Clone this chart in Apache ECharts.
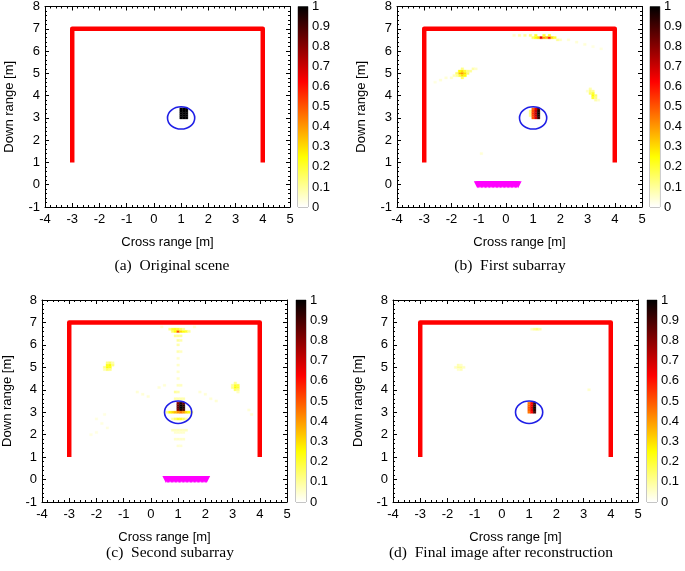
<!DOCTYPE html>
<html><head><meta charset="utf-8">
<script src="https://cdn.jsdelivr.net/npm/echarts@6/dist/echarts.min.js"></script>
<style>html,body{margin:0;padding:0;background:#fff}#c{width:685px;height:571px}</style>
</head><body><div id="c"></div><script>
// ---- data ----
const wall = [[-3,1],[-3,7],[4,7],[4,1]];
const circle = [[1,3,0.5]];
const arrayB = [-1.05,-1.0,-0.95,-0.9,-0.85,-0.8,-0.75,-0.7,-0.65,-0.6,-0.55,-0.5,-0.45,-0.4,-0.35,-0.3,-0.25,-0.2,-0.15,-0.1,-0.05,0,0.05,0.1,0.15,0.2,0.25,0.3,0.35,0.4,0.45];
const arrayC = [0.55,0.6,0.65,0.7,0.75,0.8,0.85,0.9,0.95,1.0,1.05,1.1,1.15,1.2,1.25,1.3,1.35,1.4,1.45,1.5,1.55,1.6,1.65,1.7,1.75,1.8,1.85,1.9,1.95,2.0,2.05];
const cellsA = [
 [1.0,3.0,1],[1.1,3.0,1],[1.2,3.0,1],[1.0,3.1,1],[1.1,3.1,1],[1.2,3.1,1],
 [1.0,3.2,1],[1.1,3.2,1],[1.2,3.2,1],[1.0,3.3,1],[1.1,3.3,1],[1.2,3.3,1],
 [1.0,3.4,1],[1.1,3.4,1],[1.2,3.4,1]
];
const cellsB = [
 [0.9,3.1,0.1],[0.9,3.2,0.12],[0.9,3.3,0.12],
 [1.0,3.0,0.5],[1.0,3.1,0.52],[1.0,3.2,0.55],[1.0,3.3,0.52],[1.0,3.4,0.48],
 [1.1,3.0,0.68],[1.1,3.1,0.7],[1.1,3.2,0.72],[1.1,3.3,0.7],[1.1,3.4,0.66],
 [1.2,3.0,0.92],[1.2,3.1,0.96],[1.2,3.2,1.0],[1.2,3.3,0.96],[1.2,3.4,0.9],
 [0.3,6.7,0.05],[0.5,6.7,0.08],[0.7,6.7,0.1],[0.9,6.7,0.12],[1.0,6.6,0.15],[1.1,6.6,0.25],[1.1,6.7,0.2],
 [1.2,6.6,0.3],[1.3,6.6,0.65],[1.4,6.6,0.4],[1.4,6.7,0.2],[1.5,6.6,0.35],[1.6,6.6,0.6],[1.6,6.7,0.2],
 [1.7,6.6,0.3],[1.8,6.6,0.2],[1.9,6.5,0.1],[2.0,6.5,0.06],[2.3,6.5,0.04],[2.6,6.4,0.04],[2.9,6.3,0.04],
 [3.2,6.2,0.03],[3.5,6.1,0.03],
 [-1.7,5.0,0.35],[-1.6,5.0,0.4],[-1.5,5.0,0.3],[-1.6,5.1,0.3],[-1.6,4.9,0.3],[-1.7,5.1,0.25],[-1.5,4.9,0.25],
 [-1.7,4.9,0.2],[-1.5,5.1,0.2],[-1.8,5.0,0.15],[-1.4,5.0,0.15],[-1.6,5.2,0.12],[-1.6,4.8,0.15],[-1.8,4.9,0.1],
 [-1.9,4.9,0.07],[-2.0,4.8,0.05],[-2.2,4.8,0.04],[-2.4,4.7,0.04],[-2.6,4.6,0.03],[-1.3,5.1,0.1],[-1.2,5.2,0.08],
 [-1.1,5.2,0.05],[-1.4,5.1,0.12],
 [3.1,4.3,0.08],[3.1,4.2,0.12],[3.2,4.2,0.1],[3.2,4.1,0.2],[3.1,4.1,0.15],[3.2,4.0,0.25],[3.3,4.0,0.15],
 [3.2,3.9,0.2],[3.3,3.9,0.12],[3.3,3.8,0.08],[3.4,3.8,0.05],[3.0,4.2,0.05],
 [-0.9,1.4,0.04]
];
const cellsC = [
 [1.0,3.1,0.8],[1.0,3.2,0.85],[1.0,3.3,0.85],[1.0,3.4,0.8],
 [1.1,3.1,0.95],[1.1,3.2,1.0],[1.1,3.3,1.0],[1.1,3.4,0.95],
 [1.2,3.1,0.9],[1.2,3.2,0.95],[1.2,3.3,0.95],[1.2,3.4,0.85],
 [0.6,3.0,0.12],[0.7,3.0,0.25],[0.8,3.0,0.3],[0.9,3.0,0.35],[1.0,3.0,0.4],[1.1,3.0,0.45],[1.2,3.0,0.4],
 [1.3,3.0,0.3],[1.4,3.0,0.25],[1.5,3.0,0.12],
 [0.8,2.7,0.08],[0.9,2.7,0.15],[1.0,2.7,0.2],[1.1,2.7,0.2],[1.2,2.7,0.15],[1.3,2.7,0.08],
 [0.8,2.2,0.06],[0.9,2.2,0.06],[1.0,2.2,0.06],[1.1,2.2,0.06],[1.2,2.2,0.06],[1.3,2.2,0.06],
 [0.9,2.1,0.05],[1.0,2.1,0.05],[1.1,2.1,0.05],[1.2,2.1,0.05],
 [0.9,1.8,0.05],[1.0,1.8,0.05],[1.1,1.8,0.05],[1.2,1.8,0.05],[1.0,1.5,0.04],[1.1,1.5,0.04],
 [0.9,3.6,0.08],[1.0,3.6,0.08],[1.1,3.6,0.08],[1.2,3.6,0.08],
 [0.9,3.9,0.1],[1.0,3.9,0.08],[1.0,4.2,0.06],[1.1,4.2,0.06],[1.0,4.5,0.05],[1.0,4.8,0.05],
 [1.0,5.1,0.05],[1.0,5.4,0.05],[1.0,5.7,0.08],[1.1,5.7,0.06],[1.0,6.0,0.08],[1.0,6.2,0.1],[1.1,6.2,0.08],
 [0.9,6.4,0.1],[1.0,6.4,0.1],[1.1,6.4,0.1],
 [0.8,6.6,0.15],[0.9,6.6,0.25],[1.0,6.6,0.5],[1.1,6.6,0.3],[1.2,6.6,0.25],[1.3,6.6,0.2],[1.4,6.6,0.1],
 [0.7,6.7,0.12],[0.8,6.7,0.2],[0.9,6.7,0.22],[1.0,6.7,0.2],[1.1,6.7,0.15],[1.2,6.7,0.1],
 [-1.6,5.0,0.25],[-1.5,5.0,0.22],[-1.6,5.1,0.22],[-1.5,5.1,0.25],[-1.7,5.0,0.12],[-1.4,5.1,0.12],
 [-1.6,4.9,0.15],[-1.5,4.9,0.12],[-1.6,5.2,0.12],[-1.5,5.2,0.15],[-1.7,4.9,0.08],[-1.4,5.2,0.08],
 [3.1,4.1,0.25],[3.2,4.1,0.2],[3.1,4.2,0.22],[3.2,4.2,0.18],[3.0,4.1,0.12],[3.1,4.0,0.15],[3.2,4.0,0.12],
 [3.0,4.2,0.1],[3.1,4.3,0.1],[3.2,3.9,0.06],
 [-0.5,3.9,0.04],[-0.3,3.8,0.04],[-0.1,3.7,0.04],[0.3,4.1,0.04],[0.5,4.2,0.04],[1.8,3.9,0.04],[2.0,3.8,0.04],
 [2.2,3.6,0.04],[2.4,3.5,0.04],[-2.0,2.7,0.03],[-1.8,2.5,0.03],[-1.6,2.3,0.03],[-2.2,2.0,0.03],[-2.0,2.1,0.03],
 [3.6,3.1,0.04],[3.7,2.9,0.04],[-1.7,2.9,0.03],[0.4,6.8,0.04],[1.6,6.8,0.04]
];
const cellsD = [
 [1.0,3.0,0.45],[1.0,3.1,0.48],[1.0,3.2,0.5],[1.0,3.3,0.48],[1.0,3.4,0.45],
 [1.1,3.0,0.62],[1.1,3.1,0.65],[1.1,3.2,0.68],[1.1,3.3,0.65],[1.1,3.4,0.62],
 [1.2,3.0,0.9],[1.2,3.1,0.95],[1.2,3.2,1.0],[1.2,3.3,0.95],[1.2,3.4,0.9],
 [-1.6,5.0,0.1],[-1.5,5.0,0.1],[-1.6,5.1,0.07],[-1.5,4.9,0.07],[-1.7,5.0,0.06],[-1.4,5.0,0.06],
 [-1.6,4.9,0.05],[-1.5,5.1,0.05],
 [1.1,6.7,0.06],[1.2,6.7,0.1],[1.3,6.7,0.12],[1.4,6.7,0.08],
 [3.2,4.0,0.05]
];
const captions = ['(a)  Original scene','(b)  First subarray','(c)  Second subarray','(d)  Final image after reconstruction'];
const xName = 'Cross range [m]';
const yName = 'Down range [m]';

// ---- style / layout ----
const hotColors = ['#ffffff','#ffff80','#ffff00','#ffaa00','#ff5500','#ff0000','#aa0000','#550000','#000000'];
const CELL = 0.1;
const SANS = '"Liberation Sans", Arial, sans-serif';
const panels = [
 {grid:{left:45,top:4,width:245,height:203}, cb:{left:298,top:4,width:10,height:203}, cells:cellsA, arr:null, cap:[172,266], gy:29},
 {grid:{left:397,top:4,width:245,height:203}, cb:{left:650,top:4,width:10,height:203}, cells:cellsB, arr:arrayB, cap:[510,266], gy:29},
 {grid:{left:42,top:300,width:245,height:202}, cb:{left:296,top:300,width:10,height:202}, cells:cellsC, arr:arrayC, cap:[170,553], gy:28},
 {grid:{left:393,top:300,width:245,height:202}, cb:{left:647,top:300,width:10,height:202}, cells:cellsD, arr:null, cap:[501,553], gy:28}
];

function cellItem(params, api){
  const x = api.value(0), y = api.value(1);
  const p0 = api.coord([x - CELL/2, y + CELL/2]);
  const p1 = api.coord([x + CELL/2, y - CELL/2]);
  const c = api.visual('color');
  return {type:'rect', shape:{x:p0[0], y:p0[1], width:p1[0]-p0[0], height:p1[1]-p0[1]}, style:{fill:c, stroke:c, lineWidth:0.3}};
}
function ringItem(params, api){
  const c = api.coord([api.value(0), api.value(1)]);
  const s = api.size([api.value(2), api.value(2)]);
  return {type:'ellipse', shape:{cx:c[0], cy:c[1], rx:s[0], ry:s[1]}, style:{fill:null, stroke:'#1f1fe6', lineWidth:1.6}};
}
const gradStops = hotColors.map((c,i)=>({offset:1 - i/(hotColors.length-1), color:c})).reverse();
function cbItem(params, api){
  const p0 = api.coord([0,0]);
  const p1 = api.coord([1,1]);
  return {type:'rect', shape:{x:p0[0], y:p1[1], width:p1[0]-p0[0], height:p0[1]-p1[1]},
    style:{fill:new echarts.graphic.LinearGradient(0,0,0,1,gradStops)}};
}

const grid=[], xAxis=[], yAxis=[], series=[], graphic=[];
const tickCommon = {inside:true, length:4, lineStyle:{color:'#000', width:1}};
const minorCommon = {show:true, splitNumber:5, length:2, lineStyle:{color:'#000', width:1}};
const lineCommon = {show:true, onZero:false, lineStyle:{color:'#000', width:1}};
const labelCommon = {color:'#000', fontSize:13, fontFamily:SANS};
panels.forEach((p,i)=>{
  grid.push(Object.assign({containLabel:false}, p.grid));
  xAxis.push({gridIndex:i, type:'value', min:-4, max:5, interval:1, position:'bottom',
    axisLine:lineCommon, axisTick:tickCommon, minorTick:minorCommon, splitLine:{show:false},
    axisLabel:Object.assign({margin:6}, labelCommon),
    name:xName, nameLocation:'middle', nameGap:29, nameTextStyle:{color:'#000', fontSize:13, fontFamily:SANS}});
  xAxis.push({gridIndex:i, type:'value', min:-4, max:5, interval:1, position:'top',
    axisLine:lineCommon, axisTick:tickCommon, minorTick:minorCommon, splitLine:{show:false}, axisLabel:{show:false}});
  yAxis.push({gridIndex:i, type:'value', min:-1, max:8, interval:1, position:'left',
    axisLine:lineCommon, axisTick:tickCommon, minorTick:minorCommon, splitLine:{show:false},
    axisLabel:Object.assign({margin:5}, labelCommon),
    name:yName, nameLocation:'middle', nameGap:p.gy, nameTextStyle:{color:'#000', fontSize:13, fontFamily:SANS}});
  yAxis.push({gridIndex:i, type:'value', min:-1, max:8, interval:1, position:'right',
    axisLine:lineCommon, axisTick:tickCommon, minorTick:minorCommon, splitLine:{show:false}, axisLabel:{show:false}});
});
panels.forEach((p,i)=>{
  grid.push(Object.assign({show:true, borderColor:'#8c8c8c', borderWidth:1, backgroundColor:'transparent'}, p.cb));
  xAxis.push({gridIndex:4+i, type:'value', min:0, max:1, show:false});
  yAxis.push({gridIndex:4+i, type:'value', min:0, max:1, interval:0.1, position:'right',
    axisLine:{show:false}, axisTick:{show:false}, splitLine:{show:false},
    axisLabel:Object.assign({margin:4}, labelCommon)});
});
const cellSeriesIdx = [];
panels.forEach((p,i)=>{
  cellSeriesIdx.push(series.length);
  series.push({type:'custom', xAxisIndex:2*i, yAxisIndex:2*i, data:p.cells, renderItem:cellItem, clip:true,
    encode:{x:0, y:1}, silent:true, z:2});
  series.push({type:'line', xAxisIndex:2*i, yAxisIndex:2*i, data:wall, symbol:'none', silent:true, z:3,
    lineStyle:{color:'#ff0000', width:4.5, join:'round', cap:'butt'}});
  series.push({type:'custom', xAxisIndex:2*i, yAxisIndex:2*i, data:circle, renderItem:ringItem, silent:true, z:4,
    encode:{x:0, y:1}});
  if (p.arr) {
    series.push({type:'scatter', xAxisIndex:2*i, yAxisIndex:2*i, data:p.arr.map(x=>[x,0]), symbol:'triangle',
      symbolRotate:180, symbolSize:[7,7], silent:true, z:5, itemStyle:{color:'#ff00ff', opacity:1}});
  }
  series.push({type:'custom', xAxisIndex:8+i, yAxisIndex:8+i, data:[[0,0]], renderItem:cbItem, silent:true, z:1});
  graphic.push({type:'text', x:p.cap[0], y:p.cap[1], style:{text:captions[i], fill:'#000',
    font:'15.5px "Liberation Serif", "DejaVu Serif", serif', align:'center', verticalAlign:'middle'}});
});

const chart = echarts.init(document.getElementById('c'), null, {renderer:'canvas'});
chart.setOption({
  animation:false, backgroundColor:'#fff',
  grid, xAxis, yAxis, series, graphic,
  visualMap:[{type:'continuous', show:false, min:0, max:1, dimension:2, seriesIndex:cellSeriesIdx,
    inRange:{color:hotColors}}]
});
</script></body></html>
